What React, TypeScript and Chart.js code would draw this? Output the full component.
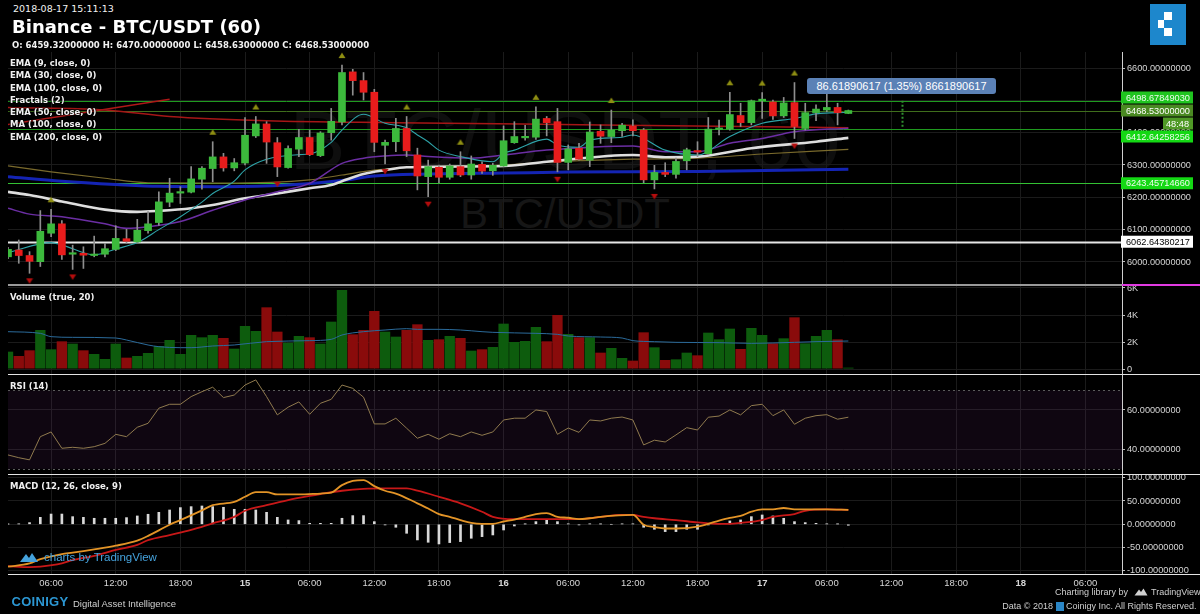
import React, { useEffect, useRef } from "react";
import { Chart, registerables } from "chart.js";

Chart.register(...registerables);

// ---------------- data ----------------
const FIRST_DAY = 14; // 2018-08-14
const FIRST_HOUR = 2; // first candle at 02:00
const X_MAX = 103.4;
const TIME_TICKS = [4, 10, 16, 22, 28, 34, 40, 46, 52, 58, 64, 70, 76, 82, 88, 94, 100];

const OPEN = [6016, 6037, 6020, 6001, 6089, 6118, 6024, 6027, 6020, 6024, 6039, 6072, 6062, 6097, 6122, 6185, 6213, 6216, 6256, 6289, 6325, 6291, 6306, 6390, 6427, 6369, 6292, 6349, 6385, 6329, 6400, 6433, 6588, 6561, 6525, 6361, 6372, 6413, 6331, 6264, 6293, 6262, 6295, 6269, 6302, 6282, 6297, 6369, 6384, 6386, 6444, 6434, 6308, 6352, 6315, 6404, 6388, 6406, 6420, 6408, 6254, 6277, 6271, 6313, 6344, 6335, 6410, 6411, 6453, 6431, 6499, 6495, 6452, 6493, 6413, 6462, 6470, 6478, 6459.32];
const HIGH = [6045, 6068, 6032, 6159, 6163, 6128, 6052, 6047, 6080, 6058, 6112, 6101, 6132, 6156, 6217, 6259, 6233, 6295, 6295, 6372, 6336, 6320, 6447, 6450, 6434, 6385, 6359, 6410, 6408, 6403, 6475, 6609, 6596, 6586, 6534, 6377, 6444, 6450, 6352, 6315, 6300, 6303, 6341, 6328, 6310, 6305, 6421, 6434, 6423, 6480, 6450, 6475, 6362, 6367, 6433, 6424, 6470, 6429, 6440, 6413, 6299, 6307, 6321, 6352, 6372, 6447, 6439, 6525, 6491, 6501, 6524, 6501, 6509, 6555, 6491, 6486, 6527, 6491, 6470];
const LOW = [6010, 5996, 5965, 5986, 6078, 6008, 5977, 5980, 6016, 6016, 6035, 6058, 6060, 6089, 6113, 6171, 6181, 6214, 6225, 6248, 6281, 6282, 6300, 6385, 6305, 6264, 6290, 6326, 6329, 6326, 6377, 6424, 6516, 6501, 6341, 6303, 6341, 6326, 6223, 6202, 6245, 6256, 6264, 6256, 6274, 6268, 6295, 6367, 6377, 6379, 6390, 6279, 6285, 6315, 6295, 6367, 6369, 6388, 6390, 6245, 6226, 6264, 6259, 6285, 6326, 6333, 6393, 6408, 6419, 6424, 6444, 6441, 6447, 6382, 6408, 6437, 6465, 6424, 6458.63];
const CLOSE = [6039, 6020, 6002, 6095, 6118, 6022, 6026, 6021, 6022, 6041, 6073, 6064, 6098, 6118, 6186, 6213, 6215, 6257, 6290, 6325, 6291, 6307, 6392, 6427, 6371, 6294, 6351, 6385, 6332, 6399, 6435, 6586, 6561, 6525, 6370, 6370, 6413, 6344, 6266, 6295, 6262, 6297, 6269, 6303, 6281, 6299, 6375, 6388, 6386, 6442, 6431, 6308, 6350, 6318, 6402, 6389, 6408, 6423, 6406, 6254, 6277, 6271, 6311, 6347, 6340, 6411, 6413, 6456, 6431, 6499, 6501, 6452, 6492, 6419, 6462, 6473, 6478, 6462, 6468.53];
const VOLUME = [1284, 963, 1383, 2889, 1457, 2049, 1877, 1383, 1111, 741, 1877, 840, 963, 1185, 1704, 2148, 1111, 2518, 2346, 2518, 2296, 1506, 3185, 2815, 4568, 2765, 1951, 2444, 2346, 1877, 3506, 5852, 2568, 2889, 4296, 2765, 2395, 2889, 3309, 2148, 2198, 2444, 2296, 1358, 1457, 1630, 3358, 2000, 2074, 3111, 2049, 4000, 2593, 2346, 2346, 1210, 1556, 815, 617, 2716, 1605, 667, 716, 1210, 1012, 2691, 2198, 2988, 1481, 3037, 2518, 1901, 2272, 3827, 1901, 2444, 2889, 2198, 100];
const RSI = [37.1, 35.7, 34.6, 46.4, 48.8, 40.5, 41.0, 40.5, 41.3, 43.0, 47.6, 46.4, 51.2, 53.2, 60.9, 62.9, 62.9, 66.8, 69.3, 71.6, 66.3, 67.6, 72.7, 75.3, 66.8, 57.5, 61.4, 64.1, 57.8, 63.4, 65.4, 72.7, 71.0, 66.5, 52.9, 52.9, 55.8, 50.7, 45.6, 47.6, 45.1, 47.9, 46.4, 48.8, 47.1, 48.8, 54.9, 55.8, 55.8, 60.0, 59.2, 47.6, 50.8, 48.6, 54.9, 54.4, 55.8, 56.4, 54.9, 42.2, 44.6, 43.7, 47.3, 51.0, 49.8, 56.3, 56.9, 60.0, 57.5, 62.2, 62.9, 57.1, 60.0, 52.7, 55.8, 57.1, 57.6, 55.3, 56.3];
const MACD_HIST = [0.3, 0.7, 3.6, 15, 22, 22, 16.4, 15, 12.9, 12.9, 12.9, 14.3, 17.9, 21.5, 25.7, 30.7, 35.8, 37.9, 39.3, 37.9, 36.5, 32.2, 32.2, 30.7, 25.7, 15, 9.3, 7.9, 2.1, 2.1, 2.1, 12.9, 18.6, 18.6, 5.7, -1.4, -6.4, -19.3, -33.6, -38.6, -42.2, -39.3, -37.2, -30, -26.5, -22.9, -12.2, -3.6, 0.5, 5.7, 9.3, 5.7, 0.7, -1.4, 0.7, 0.5, 0, 0.7, 0.7, -6.4, -10.7, -15.7, -15.7, -10.7, -10.7, -1.4, 2.1, 7.2, 9.3, 16.4, 20, 17.9, 12.9, 5.7, 3.6, 2.1, 0.7, 0.5, -2.1];

// indicator lines read at candle indices: [index, value]
const EMA9: [number, number][] = [[0, 6029], [4, 6060], [5, 6053], [8, 6022], [10, 6040], [12, 6060], [14, 6100], [16, 6140], [18, 6185], [19, 6212], [21, 6250], [22, 6285], [24, 6318], [27, 6332], [28, 6334], [30, 6370], [31, 6408], [33, 6457], [35, 6429], [37, 6415], [38, 6393], [39, 6372], [40, 6346], [42, 6326], [45, 6310], [46, 6336], [47, 6346], [50, 6380], [51, 6362], [53, 6355], [54, 6377], [57, 6386], [58, 6393], [61, 6346], [64, 6331], [67, 6388], [70, 6429], [73, 6444], [75, 6458], [78, 6463]];
const EMA30: [number, number][] = [[0, 6166], [2, 6148], [5, 6140], [9, 6118], [11, 6104], [13, 6109], [16, 6125], [19, 6160], [22, 6192], [25, 6217], [28, 6243], [31, 6305], [33, 6321], [35, 6328], [37, 6331], [39, 6326], [43, 6321], [46, 6331], [50, 6346], [58, 6359], [61, 6341], [64, 6341], [67, 6367], [70, 6382], [73, 6403], [78, 6414]];
const EMA50: [number, number][] = [[0, 6217], [2, 6207], [5, 6187], [9, 6162], [12, 6155], [14, 6158], [17, 6166], [19, 6176], [22, 6197], [25, 6212], [28, 6228], [30, 6238], [31, 6250], [33, 6272], [35, 6284], [37, 6293], [46, 6297], [50, 6310], [58, 6331], [61, 6324], [64, 6326], [69, 6352], [75, 6372], [78, 6384]];
const EMA100: [number, number][] = [[0, 6297], [4, 6279], [9, 6259], [13, 6245], [20, 6244], [28, 6254], [31, 6269], [34, 6284], [37, 6293], [46, 6300], [49, 6307], [58, 6318], [64, 6321], [70, 6334], [78, 6348]];
const EMA200: [number, number][] = [[0, 6264], [5, 6250], [10, 6240], [14, 6234], [20, 6233], [26, 6238], [31, 6252], [34, 6266], [39, 6272], [46, 6275], [52, 6278], [64, 6280], [78, 6287]];
const MA100: [number, number][] = [[0, 6478], [9, 6470], [15, 6450], [24, 6437], [36, 6431], [55, 6424], [78, 6415]];
const TREND_LINE: [number, number][] = [[0, 6425], [15, 6503]];
const VOLUME_MA: [number, number][] = [[0, 2765], [3, 2642], [4, 2395], [6, 2346], [10, 2296], [11, 2148], [13, 1778], [14, 1654], [16, 1580], [17, 1580], [19, 1704], [21, 1778], [24, 2025], [28, 2099], [30, 2198], [31, 2518], [33, 2765], [35, 2889], [37, 2988], [38, 2938], [40, 2938], [42, 2889], [44, 2765], [45, 2716], [49, 2642], [51, 2568], [52, 2444], [55, 2370], [57, 2296], [58, 2099], [60, 2025], [62, 1975], [66, 1951], [69, 1901], [73, 1975], [75, 2025], [78, 2074]];
const MACD_LINE: [number, number][] = [[0, -91], [2, -84], [3, -75], [5, -64], [6, -61], [8, -54], [10, -46], [12, -35], [13, -25], [15, -1], [16, 9], [18, 30], [19, 41], [21, 48], [22, 59], [23, 69], [24, 69], [25, 64], [27, 64], [29, 66], [30, 68], [31, 84], [32, 93], [33, 95], [34, 82], [35, 72], [36, 66], [38, 45], [39, 34], [40, 22], [41, 16], [42, 9], [43, 3], [44, 1], [45, 1], [46, 6], [47, 10], [48, 16], [49, 22], [50, 24], [51, 16], [52, 14], [53, 11], [54, 13], [55, 16], [58, 20], [59, -1], [60, -6], [61, -9], [62, -9], [64, -5], [65, 1], [66, 8], [67, 14], [68, 18], [69, 27], [70, 32], [71, 32], [72, 35], [73, 32], [76, 32], [78, 31]];
const MACD_SIGNAL: [number, number][] = [[0, -90], [2, -92], [3, -91], [5, -84], [6, -77], [8, -68], [10, -55], [12, -44], [13, -34], [15, -23], [17, -12], [19, 2], [21, 16], [22, 29], [24, 41], [26, 52], [28, 61], [29, 65], [31, 72], [33, 76], [35, 77], [37, 77], [38, 72], [40, 59], [42, 45], [44, 27], [45, 16], [47, 11], [49, 11], [51, 11], [53, 11], [55, 16], [57, 20], [58, 20], [59, 16], [60, 13], [62, 9], [64, 4], [65, 2], [66, 1], [67, 1], [68, 3], [70, 9], [71, 16], [73, 22], [74, 29], [76, 32], [78, 31]];

const FRACTAL_UP = [4, 19, 23, 31, 37, 42, 49, 56, 67, 70, 73, 76];
const FRACTAL_DOWN = [2, 6, 25, 35, 39, 51, 60, 73];

const LEVELS = [6498.6784903, 6468.53, 6412.64258256, 6243.4571466, 6062.64380217];
const CURRENT_LEVEL = 1;
const COUNTDOWN = "48:48";
const MEASURE_AT = 83;

const PRICE_TICKS = [6000, 6100, 6200, 6300, 6400, 6500, 6600];
const VOLUME_TICKS = [0, 2000, 4000, 6000];
const RSI_TICKS = [40, 60];
const RSI_BANDS = [30, 70];
const MACD_TICKS = [-100, -50, 0, 50, 100];

const LEGEND = ["EMA (9, close, 0)", "EMA (30, close, 0)", "EMA (100, close, 0)", "Fractals (2)", "EMA (50, close, 0)", "MA (100, close, 0)", "EMA (200, close, 0)"];

// ---------------- styles ----------------
const UP = "#3cb93c";
const DOWN = "#e81c1c";
const VOL_UP = "#0d5c0d";
const VOL_DOWN = "#8a0b0b";
const GRID = "#1b1b1b";
const AXIS_TEXT = "#d6d6d6";
const LEVEL_STYLE = [
  { line: "#1f9a1f", width: 1, bg: "#1fc41f", fg: "#eefcee" },
  { line: "#3f6e1c", width: 1, bg: "#4a8a22", fg: "#ffffff" },
  { line: "#1f9a1f", width: 1, bg: "#14d814", fg: "#eefcee" },
  { line: "#33c133", width: 1.2, bg: "#14d814", fg: "#eefcee" },
  { line: "#e6e6e6", width: 2, bg: "#ffffff", fg: "#000000" },
];

const FONT = "Liberation Sans";

function timeLabel(v: number) {
  const h = FIRST_HOUR + v;
  const hh = ((h % 24) + 24) % 24;
  const day = FIRST_DAY + Math.floor(h / 24);
  return hh === 0 ? String(day) : String(hh).padStart(2, "0") + ":00";
}
function isDay(v: number) {
  return (FIRST_HOUR + v) % 24 === 0;
}

function xScale(showLabels: boolean): any {
  return {
    type: "linear",
    min: 0,
    max: X_MAX,
    offset: false,
    afterBuildTicks: (s: any) => {
      s.ticks = TIME_TICKS.map((v) => ({ value: v }));
    },
    afterFit: (s: any) => {
      s.height = showLabels ? 40 : 0;
    },
    grid: { color: GRID, drawTicks: false, offset: false },
    border: { display: false },
    ticks: {
      display: showLabels,
      autoSkip: false,
      maxRotation: 0,
      padding: 4,
      color: AXIS_TEXT,
      font: (c: any) => ({ family: FONT, size: 9.5, weight: c.tick && isDay(c.tick.value) ? "bold" : "normal" }),
      callback: (v: any) => timeLabel(Number(v)),
    },
  };
}

function yScale(min: number, max: number, ticks: number[], fmt: (v: number) => string): any {
  return {
    position: "right",
    min,
    max,
    afterBuildTicks: (s: any) => {
      s.ticks = ticks.map((v) => ({ value: v }));
    },
    afterFit: (s: any) => {
      s.width = 78;
    },
    grid: { color: GRID, tickLength: 3, tickColor: "#bdbdbd" },
    border: { color: "#cfcfcf", width: 1 },
    ticks: { autoSkip: false, padding: 2, color: AXIS_TEXT, font: { family: FONT, size: 9.2 }, callback: (v: any) => fmt(Number(v)) },
  };
}

const pts = (arr: [number, number][]) => arr.map(([x, y]) => ({ x, y }));

function lineDs(data: [number, number][], color: string, width: number, order: number): any {
  return {
    type: "line",
    data: pts(data),
    borderColor: color,
    borderWidth: width,
    pointRadius: 0,
    cubicInterpolationMode: "monotone",
    spanGaps: true,
    order,
  };
}

function makeTriangle(up: boolean, color: string) {
  const c = document.createElement("canvas");
  c.width = 8;
  c.height = up ? 26 : 22;
  const g = c.getContext("2d")!;
  g.fillStyle = color;
  g.beginPath();
  if (up) {
    g.moveTo(4, 0.5);
    g.lineTo(7.5, 6);
    g.lineTo(0.5, 6);
  } else {
    g.moveTo(0.5, 16);
    g.lineTo(7.5, 16);
    g.lineTo(4, 21.5);
  }
  g.closePath();
  g.fill();
  return c;
}

const priceOverlay = {
  id: "priceOverlay",
  beforeDatasetsDraw(chart: any) {
    const { ctx, chartArea: a, scales } = chart;
    const y = scales.y;
    const x = scales.x;
    ctx.save();
    LEVELS.forEach((v, k) => {
      const st = LEVEL_STYLE[k];
      const py = Math.round(y.getPixelForValue(v)) + 0.5;
      ctx.strokeStyle = st.line;
      ctx.lineWidth = st.width;
      ctx.beginPath();
      ctx.moveTo(a.left, py);
      ctx.lineTo(a.right, py);
      ctx.stroke();
    });
    // measuring tool
    const mx = Math.round(x.getPixelForValue(MEASURE_AT)) + 0.5;
    ctx.strokeStyle = "#2f8f2f";
    ctx.setLineDash([2, 2]);
    ctx.beginPath();
    ctx.moveTo(mx, y.getPixelForValue(LEVELS[0]));
    ctx.lineTo(mx, y.getPixelForValue(LEVELS[2]));
    ctx.stroke();
    ctx.restore();
  },
  afterDraw(chart: any) {
    const { ctx, chartArea: a, scales } = chart;
    const y = scales.y;
    const H = 12;
    const left = a.right - 1;
    const w = 72;
    const cy = y.getPixelForValue(LEVELS[CURRENT_LEVEL]);
    const anchorTop = cy - H / 2;
    const anchorBottom = cy + H / 2 + 1 + H;
    const boxes = LEVELS.map((v, k) => {
      let top = y.getPixelForValue(v) - H / 2;
      if (k !== CURRENT_LEVEL) {
        if (top < anchorBottom && top + H > anchorTop) {
          if (v > LEVELS[CURRENT_LEVEL]) top = anchorTop - 1 - H;
          else top = anchorBottom + 1;
        }
      }
      return { top, k, v };
    });
    ctx.save();
    ctx.font = `9.2px ${FONT}`;
    ctx.textBaseline = "middle";
    boxes.forEach(({ top, k, v }) => {
      const st = LEVEL_STYLE[k];
      ctx.fillStyle = st.bg;
      ctx.fillRect(left, top, w, H);
      ctx.fillStyle = st.fg;
      ctx.fillText(v.toFixed(8), left + 5, top + H / 2 + 0.5);
    });
    // countdown box below the current price
    const ct = anchorTop + H + 1;
    ctx.fillStyle = "#4f9a26";
    ctx.fillRect(left + 42, ct, w - 42, H);
    ctx.fillStyle = "#ffffff";
    ctx.fillText(COUNTDOWN, left + 45, ct + H / 2 + 0.5);
    ctx.restore();
  },
};

const rsiBand = {
  id: "rsiBand",
  beforeDatasetsDraw(chart: any) {
    const { ctx, chartArea: a, scales } = chart;
    const y = scales.y;
    const top = y.getPixelForValue(RSI_BANDS[1]);
    const bot = y.getPixelForValue(RSI_BANDS[0]);
    ctx.save();
    ctx.fillStyle = "rgba(120, 50, 140, 0.12)";
    ctx.fillRect(a.left, top, a.right - a.left, bot - top);
    ctx.strokeStyle = "#5c5c5c";
    ctx.lineWidth = 1;
    ctx.setLineDash([2, 3]);
    [top, bot].forEach((p) => {
      const py = Math.round(p) + 0.5;
      ctx.beginPath();
      ctx.moveTo(a.left, py);
      ctx.lineTo(a.right, py);
      ctx.stroke();
    });
    ctx.restore();
  },
};

const base = (padTop: number, padBottom: number): any => ({
  responsive: false,
  animation: false,
  devicePixelRatio: 1,
  events: [],
  layout: { padding: { left: 8, right: 0, top: padTop, bottom: padBottom } },
  plugins: { legend: { display: false }, tooltip: { enabled: false } },
});

const candleColor = (c: any) => (CLOSE[c.dataIndex] >= OPEN[c.dataIndex] ? UP : DOWN);
const volColor = (c: any) => (CLOSE[c.dataIndex] >= OPEN[c.dataIndex] ? VOL_UP : VOL_DOWN);

function ChartsPanel() {
  const priceRef = useRef<HTMLCanvasElement>(null);
  const volRef = useRef<HTMLCanvasElement>(null);
  const rsiRef = useRef<HTMLCanvasElement>(null);
  const macdRef = useRef<HTMLCanvasElement>(null);

  useEffect(() => {
    const idx = CLOSE.map((_, i) => i);
    const upTri = makeTriangle(true, "#8e8e12");
    const downTri = makeTriangle(false, "#b40d0d");

    const price = new Chart(priceRef.current!, {
      type: "bar",
      data: {
        datasets: [
          { type: "bar", data: idx.map((i) => ({ x: i, y: [LOW[i], HIGH[i]] })), backgroundColor: "#8e8e8e", barThickness: 1, grouped: false, order: 1 } as any,
          { type: "bar", data: idx.map((i) => ({ x: i, y: [OPEN[i], CLOSE[i]] })), backgroundColor: candleColor, barThickness: 7, minBarLength: 1.5, grouped: false, order: 0 } as any,
          lineDs(EMA200, "#1424b4", 3, 10),
          lineDs(EMA100, "#7a6a2c", 1.2, 9),
          lineDs(MA100, "#a51616", 1.5, 8),
          lineDs(TREND_LINE, "#b01818", 1.5, 8),
          lineDs(EMA50, "#dedede", 2.6, 7),
          lineDs(EMA30, "#6b2ea3", 1.5, 6),
          lineDs(EMA9, "#2ea3a8", 1.1, 5),
          { type: "line", showLine: false, data: FRACTAL_UP.map((i) => ({ x: i, y: HIGH[i] })), pointStyle: upTri, pointRadius: 3, order: 0 } as any,
          { type: "line", showLine: false, data: FRACTAL_DOWN.map((i) => ({ x: i, y: LOW[i] })), pointStyle: downTri, pointRadius: 3, order: 0 } as any,
        ],
      },
      options: {
        ...base(12, 12),
        scales: { x: xScale(false), y: yScale(5928.8, 6649.5, PRICE_TICKS, (v) => v.toFixed(8)) },
      },
      plugins: [priceOverlay],
    } as any);

    const volume = new Chart(volRef.current!, {
      type: "bar",
      data: {
        datasets: [
          { type: "bar", data: idx.map((i) => ({ x: i, y: VOLUME[i] })), backgroundColor: volColor, barPercentage: 0.96, categoryPercentage: 1, grouped: false, order: 1 } as any,
          lineDs(VOLUME_MA, "#2b6b9b", 1, 0),
        ],
      },
      options: {
        ...base(12, 12),
        scales: { x: xScale(false), y: yScale(-370, 6148, VOLUME_TICKS, (v) => (v === 0 ? "0" : v / 1000 + "K")) },
      },
    } as any);

    const rsi = new Chart(rsiRef.current!, {
      type: "line",
      data: {
        datasets: [
          { data: idx.map((i) => ({ x: i, y: RSI[i] })), borderColor: "#8f7a4e", borderWidth: 1, pointRadius: 0, tension: 0 },
        ],
      },
      options: {
        ...base(12, 12),
        scales: { x: xScale(false), y: yScale(27.4, 77.8, RSI_TICKS, (v) => v.toFixed(8)) },
      },
      plugins: [rsiBand],
    } as any);

    const macd = new Chart(macdRef.current!, {
      type: "bar",
      data: {
        datasets: [
          { type: "bar", data: idx.map((i) => ({ x: i, y: MACD_HIST[i] })), backgroundColor: "#d9d9d9", barThickness: 2, grouped: false, order: 2 } as any,
          lineDs(MACD_SIGNAL, "#c81818", 1.8, 1),
          lineDs(MACD_LINE, "#e39427", 1.8, 0),
        ],
      },
      options: {
        ...base(12, 0),
        scales: { x: xScale(true), y: yScale(-106.7, 105.8, MACD_TICKS, (v) => v.toFixed(8)) },
      },
    } as any);

    return () => {
      price.destroy();
      volume.destroy();
      rsi.destroy();
      macd.destroy();
    };
  }, []);

  const cv = (top: number, height: number): React.CSSProperties => ({ position: "absolute", left: 0, top, width: 1200, height });
  return (
    <>
      <canvas ref={priceRef} width={1200} height={257} style={cv(40, 257)} />
      <canvas ref={volRef} width={1200} height={112} style={cv(274, 112)} />
      <canvas ref={rsiRef} width={1200} height={123} style={cv(363, 123)} />
      <canvas ref={macdRef} width={1200} height={151} style={cv(463, 151)} />
    </>
  );
}

const txt = (left: number, top: number, size: number, extra: React.CSSProperties = {}): React.CSSProperties => ({
  position: "absolute",
  left,
  top,
  fontSize: size,
  lineHeight: `${size}px`,
  whiteSpace: "nowrap",
  ...extra,
});

const dv = "DejaVu Sans";
const shadow = "0 0 2px #000, 0 0 2px #000, 0 0 1px #000";

export default function App() {
  return (
    <div style={{ position: "fixed", left: 0, top: 0, width: 1200, height: 614, background: "#000", overflow: "hidden", fontFamily: FONT }}>
      {/* watermarks */}
      <div style={txt(0, 98, 84, { width: 1130, textAlign: "center", color: "#0e0e0e", fontFamily: FONT })}>BTC/USDT, 60</div>
      <div style={txt(0, 193, 42, { width: 1130, textAlign: "center", color: "#161616", fontFamily: FONT })}>BTC/USDT</div>

      <ChartsPanel />

      {/* separators */}
      <div style={{ position: "absolute", left: 8, top: 284, width: 1114, height: 2, background: "#9a9a9a" }} />
      <div style={{ position: "absolute", left: 1122, top: 283.5, width: 78, height: 2.5, background: "#e23be2" }} />
      <div style={{ position: "absolute", left: 8, top: 373.5, width: 1192, height: 1.5, background: "#e4e4e4" }} />
      <div style={{ position: "absolute", left: 8, top: 473.5, width: 1192, height: 1.5, background: "#e4e4e4" }} />
      <div style={{ position: "absolute", left: 8, top: 573.5, width: 1192, height: 1.5, background: "#e4e4e4" }} />

      {/* header */}
      <div style={txt(13, 4, 9.5, { color: "#f2f2f2", fontFamily: dv })}>2018-08-17 15:11:13</div>
      <div style={txt(12, 17.5, 18, { color: "#ffffff", fontFamily: dv, fontWeight: "bold" })}>Binance - BTC/USDT (60)</div>
      <div style={txt(12, 41, 8.5, { color: "#f2f2f2", fontFamily: dv, fontWeight: "bold" })}>O: 6459.32000000 H: 6470.00000000 L: 6458.63000000 C: 6468.53000000</div>
      {LEGEND.map((t, k) => (
        <div key={t} style={txt(10, 59.2 + k * 12.23, 8.5, { color: "#f0f0f0", fontFamily: dv, fontWeight: "bold", textShadow: shadow })}>
          {t}
        </div>
      ))}
      <div style={txt(10, 292.6, 8.5, { color: "#f0f0f0", fontFamily: dv, fontWeight: "bold", textShadow: shadow })}>Volume (true, 20)</div>
      <div style={txt(10, 381.9, 8.5, { color: "#f0f0f0", fontFamily: dv, fontWeight: "bold", textShadow: shadow })}>RSI (14)</div>
      <div style={txt(10, 481.9, 8.5, { color: "#f0f0f0", fontFamily: dv, fontWeight: "bold", textShadow: shadow })}>MACD (12, 26, close, 9)</div>

      {/* measure tooltip */}
      <div style={{ position: "absolute", left: 807, top: 77.5, width: 189, height: 16.5, background: "#5b81b6", borderRadius: 3, color: "#fff", fontFamily: FONT, fontSize: 11, lineHeight: "16.5px", textAlign: "center", whiteSpace: "nowrap" }}>
        86.61890617 (1.35%) 8661890617
      </div>

      {/* top-right logo */}
      <div style={{ position: "absolute", left: 1150, top: 4, width: 36, height: 41, background: "#1d87cc" }}>
        <div style={{ position: "absolute", left: 14, top: 8, width: 8, height: 8, background: "#fff" }} />
        <div style={{ position: "absolute", left: 8, top: 16, width: 6, height: 8, background: "#fff" }} />
        <div style={{ position: "absolute", left: 14, top: 24, width: 8, height: 8, background: "#fff" }} />
      </div>

      {/* charts by TradingView */}
      <svg style={{ position: "absolute", left: 19, top: 550 }} width="20" height="13" viewBox="0 0 20 13">
        <path d="M1 12 L7 4 L10 8 L13 3 L19 12 Z" fill="#45a2dc" />
      </svg>
      <div style={txt(44, 551.9, 11.5, { color: "#45a2dc" })}>charts by TradingView</div>

      {/* footer */}
      <div style={txt(11.5, 595.2, 13, { color: "#2c97d3", fontWeight: "bold", letterSpacing: 0.3 })}>COINIGY</div>
      <div style={txt(73, 599, 9.5, { color: "#d0d0d0" })}>Digital Asset Intelligence</div>
      <div style={txt(1055, 587.6, 9, { color: "#cfcfcf" })}>Charting library by</div>
      <svg style={{ position: "absolute", left: 1134, top: 587 }} width="14" height="9" viewBox="0 0 14 9">
        <path d="M0.5 8.5 L5 2.5 L7 5 L9.5 1.5 L13.5 8.5 Z" fill="#cfcfcf" />
      </svg>
      <div style={txt(1151, 587.6, 9, { color: "#cfcfcf" })}>TradingView</div>
      <div style={txt(900, 602.1, 9, { color: "#cfcfcf", width: 153, textAlign: "right" })}>Data © 2018</div>
      <div style={{ position: "absolute", left: 1056, top: 602, width: 8, height: 9, background: "#2a86c6" }} />
      <div style={txt(1066, 602.1, 9, { color: "#cfcfcf" })}>Coinigy Inc. All Rights Reserved.</div>
    </div>
  );
}
